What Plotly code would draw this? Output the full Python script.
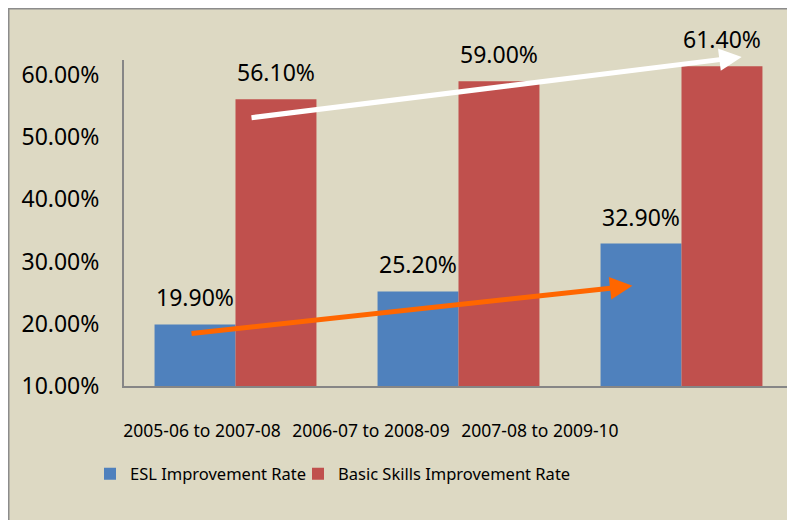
import plotly.graph_objects as go

# ---- data ----
categories = ["2005-06 to 2007-08", "2006-07 to 2008-09", "2007-08 to 2009-10"]
esl_rate = [19.9, 25.2, 32.9]
basic_rate = [56.1, 59.0, 61.4]
series_names = ["ESL Improvement Rate", "Basic Skills Improvement Rate"]
y_ticks = [10, 20, 30, 40, 50, 60]
y_tick_labels = [f"{v:.2f}%" for v in y_ticks]

# trend arrows drawn by hand on the original (category-index x, percent y)
white_arrow_start = (0.065, 53.1)
white_arrow_end = (2.27, 62.9)
orange_arrow_start = (-0.204, 18.4)
orange_arrow_end = (1.78, 26.1)

BG = "#DDD9C3"
BLUE = "#4F81BD"
RED = "#C0504D"
AXIS = "#868686"
FONT = "Noto Sans"

# page body has an 8px margin; plot area is placed accordingly
L, T, PW, PH = 116, 52, 669, 326
W, H = 795, 520
GAP = 0.274

fig = go.Figure()
series = [(series_names[0], esl_rate, BLUE, "legend", "g1"),
          (series_names[1], basic_rate, RED, "legend2", "g2")]
for name, vals, col, leg, grp in series:
    fig.add_trace(go.Bar(
        x=categories, y=vals, name=name, legend=leg, offsetgroup=grp,
        marker=dict(color=col, line=dict(width=0)),
        hoverinfo="skip",
    ))
# value labels, aligned with the grouped bars
for name, vals, col, leg, grp in series:
    fig.add_trace(go.Scatter(
        x=categories, y=vals, offsetgroup=grp, mode="markers+text",
        text=[f"{v:.2f}%" for v in vals], textposition="top center",
        textfont=dict(family=FONT, size=23, color="#000000"),
        marker=dict(size=18, opacity=0), cliponaxis=False,
        showlegend=False, hoverinfo="skip",
    ))

# invisible helper trace on the label axis (category labels are offset in original)
fig.add_trace(go.Scatter(x=categories, y=esl_rate, xaxis="x2", yaxis="y",
                         mode="markers", marker=dict(opacity=0),
                         showlegend=False, hoverinfo="skip"))

annotations = []
for (sx, sy), (ex, ey), col in [(white_arrow_start, white_arrow_end, "#FFFFFF"),
                                (orange_arrow_start, orange_arrow_end, "#FF6600")]:
    annotations.append(dict(
        x=ex, y=ey, ax=sx, ay=sy, xref="x", yref="y", axref="x", ayref="y",
        text="", showarrow=True, arrowhead=2, arrowsize=0.9, arrowwidth=5,
        arrowcolor=col, standoff=0, startstandoff=0,
    ))

def px_x(p):
    return (p - L) / PW

def px_y(p):
    return (T + PH - p) / PH

legend_style = dict(orientation="h", xanchor="left", yanchor="middle",
                    font=dict(family=FONT, size=16.5, color="#000000"),
                    bgcolor="rgba(0,0,0,0)")

fig.update_layout(
    width=W, height=H,
    margin=dict(l=L, r=W - L - PW, t=T, b=H - T - PH, autoexpand=False),
    paper_bgcolor=BG,
    plot_bgcolor="rgba(0,0,0,0)",
    barmode="group", bargap=GAP, bargroupgap=0,
    scattermode="group", scattergap=GAP,
    showlegend=True,
    legend=dict(x=px_x(82), y=px_y(466), **legend_style),
    legend2=dict(x=px_x(290), y=px_y(466), **legend_style),
    xaxis=dict(type="category", range=[-0.5, 2.5], showticklabels=False, ticks="",
               showline=True, linecolor=AXIS, linewidth=2, showgrid=False, zeroline=False,
               fixedrange=True, automargin=False),
    xaxis2=dict(type="category", anchor="y", domain=[0, 0.748], range=[-0.4615, 2.5],
                categoryorder="array", categoryarray=categories,
                showline=False, ticks="", showgrid=False, zeroline=False,
                tickangle=0, automargin=False,
                tickfont=dict(family=FONT, size=17.5, color="#000000"),
                ticklabelstandoff=32),
    yaxis=dict(range=[10, 62.4], tickvals=y_ticks, ticktext=y_tick_labels,
               showline=True, linecolor=AXIS, linewidth=2, showgrid=False, zeroline=False,
               ticks="", tickfont=dict(family=FONT, size=23, color="#000000"),
               ticklabelstandoff=18, automargin=False),
    shapes=[dict(type="rect", xref="paper", yref="paper",
                 x0=px_x(0), x1=px_x(W + 20), y0=px_y(H + 20), y1=px_y(0),
                 fillcolor="rgba(0,0,0,0)", line=dict(color="#8C8C8C", width=3),
                 layer="below")],
    annotations=annotations,
)

fig.write_html("out.html")
